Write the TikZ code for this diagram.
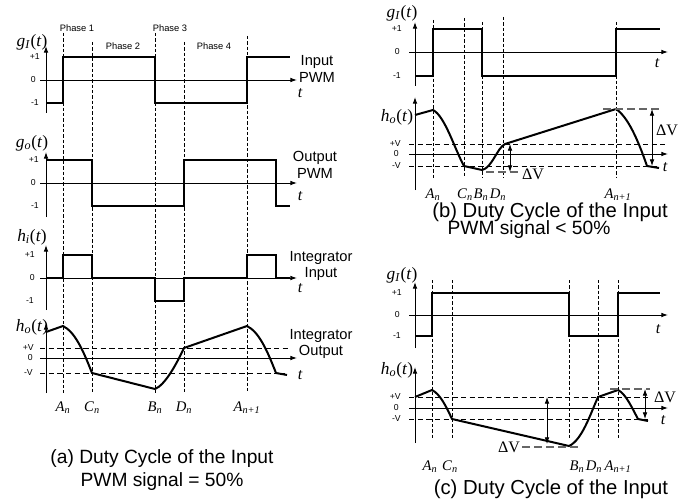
\documentclass[tikz,border=0pt]{standalone}
\usepackage{fontspec}
\setmainfont{Liberation Serif}
\setsansfont{Liberation Sans}
\usepackage{tikz}
\usetikzlibrary{positioning,arrows.meta,calc}
\newcommand{\fnlbl}[2]{\textit{#1}\textsubscript{\textit{#2}}(\textit{t})}
\newcommand{\ptlbl}[2]{\textit{#1}\textsubscript{\textit{#2}}}

\begin{document}
\begin{tikzpicture}[
  x=0.75pt,y=-0.75pt,
  sig/.style={line width=1.5pt,line join=miter},
  axis/.style={line width=0.7pt,-{Latex[length=5pt,width=3.5pt]}},
  guide/.style={line width=0.5pt,dash pattern=on 2.5pt off 1.5pt},
  lvl/.style={line width=0.6pt,dash pattern=on 4pt off 2.5pt},
  dvline/.style={line width=0.8pt,dash pattern=on 6pt off 3pt,gray!80!black},
  dv/.style={line width=0.6pt,{Latex[length=5pt,width=3.5pt]}-{Latex[length=5pt,width=3.5pt]}},
  fnlab/.style={font=\fontsize{13}{15}\selectfont,inner sep=0pt},
  ticklab/.style={font=\sffamily\fontsize{6.5}{7}\selectfont,inner sep=0pt},
  phaselab/.style={font=\sffamily\fontsize{7}{8}\selectfont,inner sep=0pt},
  sidelab/.style={font=\sffamily\fontsize{11}{12.5}\selectfont,align=center,inner sep=0pt},
  tlab/.style={font=\itshape\fontsize{12}{14}\selectfont,inner sep=0pt},
  ptlab/.style={font=\fontsize{11}{13}\selectfont,inner sep=0pt},
  dvlab/.style={font=\fontsize{12}{14}\selectfont,inner sep=0pt},
  caplab/.style={font=\sffamily\fontsize{14.4}{17}\selectfont,inner sep=0pt},
  capbig/.style={font=\sffamily\fontsize{15.2}{18}\selectfont,inner sep=0pt},
]
\useasboundingbox (0,0) rectangle (684,499);

% (a) phase guides
\draw[guide] (63,33) -- (63,393);
\draw[guide] (92,42) -- (92,393);
\draw[guide] (155,33) -- (155,393);
\draw[guide] (184,42) -- (184,393);
\draw[guide] (247,36) -- (247,393);
\node[phaselab] (ph1) at (77,28) {Phase 1};
\node[phaselab] (ph2) at (123,46) {Phase 2};
\node[phaselab] (ph3) at (170,28) {Phase 3};
\node[phaselab] (ph4) at (214,46) {Phase 4};

% (a) input PWM
\draw[axis] (46,113) -- (46,46);
\draw[axis] (40,80) -- (297,80);
\draw[sig] (46,103) -- (63,103) -- (63,57) -- (155,57) -- (155,103) -- (247,103) -- (247,57) -- (290,57);
\node[fnlab] (giA) at (32,42) {\fnlbl{g}{I}};
\node[ticklab,anchor=east] (p1A) at (40,57) {+1};
\node[ticklab,anchor=east] (z1A) at (36,80) {0};
\node[ticklab,anchor=east] (m1A) at (39,103) {-1};
\node[tlab] (t1A) at (300,93) {t};
\node[sidelab] (inA) at (317,69) {Input\\PWM};

% (a) output PWM
\draw[axis] (46,217) -- (46,152);
\draw[axis] (40,183) -- (297,183);
\draw[sig] (46,160) -- (92,160) -- (92,206) -- (184,206) -- (184,160) -- (276,160) -- (276,206) -- (290,206);
\node[fnlab] (goA) at (32,143) {\fnlbl{g}{o}};
\node[ticklab,anchor=east] (p2A) at (39,160) {+1};
\node[ticklab,anchor=east] (z2A) at (36,183) {0};
\node[ticklab,anchor=east] (m2A) at (39,206) {-1};
\node[tlab] (t2A) at (300,196) {t};
\node[sidelab] (outA) at (315,165) {Output\\PWM};

% (a) integrator input
\draw[axis] (46,310) -- (46,245);
\draw[axis] (40,278) -- (297,278);
\draw[sig] (46,278) -- (63,278) -- (63,255) -- (92,255) -- (92,278) -- (155,278) -- (155,301) -- (184,301) -- (184,278) -- (247,278) -- (247,255) -- (276,255) -- (276,278) -- (290,278);
\node[fnlab] (hiA) at (32,237) {\fnlbl{h}{i}};
\node[ticklab,anchor=east] (p3A) at (35,255) {+1};
\node[ticklab,anchor=east] (z3A) at (35,278) {0};
\node[ticklab,anchor=east] (m3A) at (34,301) {-1};
\node[tlab] (t3A) at (300,288) {t};
\node[sidelab] (iinA) at (321,266) {Integrator\\Input};

% (a) integrator output
\draw[axis] (46,393) -- (46,323);
\draw[axis] (40,358) -- (297,358);
\draw[lvl] (40,348) -- (290,348);
\draw[lvl] (40,373) -- (285,373);
\draw[sig] (46,332) -- (63,326) .. controls (75,332) and (83,350) .. (92,373) -- (155,389)
  .. controls (165,385) and (176,365) .. (184,348) -- (247,326)
  .. controls (259,332) and (267,350) .. (276,373) -- (287,375);
\node[fnlab] (hoA) at (32,327) {\fnlbl{h}{o}};
\node[ticklab,anchor=east] (pvA) at (34,348) {+V};
\node[ticklab,anchor=east] (z4A) at (33,358) {0};
\node[ticklab,anchor=east] (mvA) at (33,373) {-V};
\node[tlab] (t4A) at (300,375) {t};
\node[sidelab] (ioutA) at (321,344) {Integrator\\Output};
\node[ptlab] (anA) at (63,408) {\ptlbl{A}{n}};
\node[ptlab] (cnA) at (92,408) {\ptlbl{C}{n}};
\node[ptlab] (bnA) at (155,408) {\ptlbl{B}{n}};
\node[ptlab] (dnA) at (184,408) {\ptlbl{D}{n}};
\node[ptlab] (an1A) at (247,408) {\ptlbl{A}{n+1}};
\node[caplab] (capA1) at (162,459) {(a) Duty Cycle of the Input};
\node[caplab] (capA2) at (162,482) {PWM signal = 50\%};

% (b) guides
\draw[guide] (433,20) -- (433,178);
\draw[guide] (464,18) -- (464,178);
\draw[guide] (482,22) -- (482,178);
\draw[guide] (503,17) -- (503,178);
\draw[guide] (616,22) -- (616,178);

% (b) input PWM
\draw[axis] (415,86) -- (415,22);
\draw[axis] (409,52) -- (668,52);
\draw[sig] (415,76) -- (433,76) -- (433,29) -- (482,29) -- (482,76) -- (616,76) -- (616,29) -- (660,29);
\node[fnlab] (giB) at (402,13) {\fnlbl{g}{I}};
\node[ticklab,anchor=east] (p1B) at (402,29) {+1};
\node[ticklab,anchor=east] (z1B) at (400,52) {0};
\node[ticklab,anchor=east] (m1B) at (401,76) {-1};
\node[tlab] (t1B) at (657,63) {t};

% (b) integrator output
\draw[axis] (415,190) -- (415,97);
\draw[axis] (409,154) -- (668,154);
\draw[lvl] (409,144) -- (665,144);
\draw[lvl] (409,166) -- (660,166);
\draw[sig] (415,115) -- (433,110) .. controls (445,116) and (455,150) .. (464,166) -- (482,170)
  .. controls (492,168) and (497,148) .. (505,144) -- (616,109)
  .. controls (628,117) and (638,140) .. (647,166) -- (659,168);
\node[fnlab] (hoB) at (397,117) {\fnlbl{h}{o}};
\node[ticklab,anchor=east] (pvB) at (401,144) {+V};
\node[ticklab,anchor=east] (z2B) at (399,154) {0};
\node[ticklab,anchor=east] (mvB) at (401,166) {-V};
\node[tlab] (t2B) at (665,167) {t};
\coordinate (pkB) at (652,109);
\coordinate (lowB) at (652,166);
\draw[dvline] (603,109) -- (660,109);
\draw[dv] (pkB) -- (lowB);
\node[dvlab] (dvB1) at (667,130) {ΔV};
\coordinate (topB) at (510,144);
\coordinate (botB) at (510,172);
\draw[dvline] (486,172) -- (518,172);
\draw[dv] (topB) -- (botB);
\node[dvlab] (dvB2) at (533,174) {ΔV};
\node[ptlab] (anB) at (433,195) {\ptlbl{A}{n}};
\node[ptlab] (cnB) at (465,195) {\ptlbl{C}{n}};
\node[ptlab] (bnB) at (481,195) {\ptlbl{B}{n}};
\node[ptlab] (dnB) at (498,195) {\ptlbl{D}{n}};
\node[ptlab] (an1B) at (618,195) {\ptlbl{A}{n+1}};
\node[capbig] (capB1) at (550,212) {(b) Duty Cycle of the Input};
\node[caplab] (capB2) at (529,230) {PWM signal < 50\%};

% (c) guides
\draw[guide] (432,280) -- (432,438);
\draw[guide] (452,280) -- (452,438);
\draw[guide] (569,280) -- (569,438);
\draw[guide] (598,280) -- (598,438);
\draw[guide] (618,280) -- (618,438);

% (c) input PWM
\draw[axis] (415,348) -- (415,282);
\draw[axis] (409,315) -- (668,315);
\draw[sig] (415,336) -- (432,336) -- (432,293) -- (569,293) -- (569,336) -- (618,336) -- (618,293) -- (660,293);
\node[fnlab] (giC) at (402,275) {\fnlbl{g}{I}};
\node[ticklab,anchor=east] (p1C) at (402,293) {+1};
\node[ticklab,anchor=east] (z1C) at (400,315) {0};
\node[ticklab,anchor=east] (m1C) at (401,336) {-1};
\node[tlab] (t1C) at (658,329) {t};

% (c) integrator output
\draw[axis] (415,443) -- (415,367);
\draw[axis] (409,408) -- (668,408);
\draw[lvl] (409,397) -- (650,397);
\draw[lvl] (409,419) -- (650,419);
\draw[sig] (415,397) -- (432,390) .. controls (440,394) and (446,406) .. (452,419) -- (569,446)
  .. controls (582,440) and (590,415) .. (598,397) -- (618,390)
  .. controls (626,394) and (632,408) .. (638,419) -- (648,421);
\node[fnlab] (hoC) at (397,370) {\fnlbl{h}{o}};
\node[ticklab,anchor=east] (pvC) at (401,397) {+V};
\node[ticklab,anchor=east] (z2C) at (399,408) {0};
\node[ticklab,anchor=east] (mvC) at (401,419) {-V};
\node[tlab] (t2C) at (663,420) {t};
\coordinate (topC) at (547,397);
\coordinate (botC) at (547,444);
\draw[dvline] (522,447) -- (580,447);
\draw[dv] (topC) -- (botC);
\node[dvlab] (dvC1) at (509,447) {ΔV};
\coordinate (pkC) at (645,389);
\coordinate (lowC) at (645,419);
\draw[dvline] (610,389) -- (650,389);
\draw[dv] (pkC) -- (lowC);
\node[dvlab] (dvC2) at (665,397) {ΔV};
\node[ptlab] (anC) at (430,467) {\ptlbl{A}{n}};
\node[ptlab] (cnC) at (450,467) {\ptlbl{C}{n}};
\node[ptlab] (bnC) at (577,467) {\ptlbl{B}{n}};
\node[ptlab] (dnC) at (594,467) {\ptlbl{D}{n}};
\node[ptlab] (an1C) at (618,467) {\ptlbl{A}{n+1}};
\node[capbig] (capC1) at (551,489) {(c) Duty Cycle of the Input};
\end{tikzpicture}
\end{document}
